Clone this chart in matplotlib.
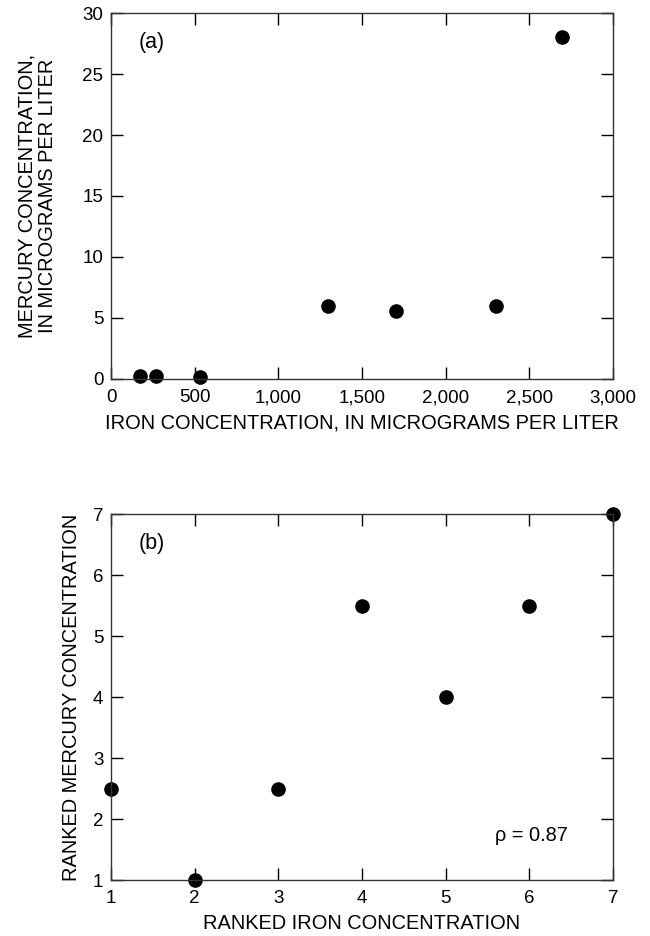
import matplotlib.pyplot as plt
from matplotlib.ticker import FuncFormatter

plt.rcParams["font.family"] = ["Liberation Sans", "DejaVu Sans"]

# panel (a): measured concentrations
iron = [175, 270, 534, 1296, 1703, 2302, 2696]
mercury = [0.25, 0.25, 0.2, 6.0, 5.55, 6.0, 28.0]
iron_ticks = [0, 500, 1000, 1500, 2000, 2500, 3000]
mercury_ticks = [0, 5, 10, 15, 20, 25, 30]

# panel (b): ranks
rank_iron = [1, 2, 3, 4, 5, 6, 7]
rank_mercury = [2.5, 1, 2.5, 5.5, 4, 5.5, 7]
rank_ticks = [1, 2, 3, 4, 5, 6, 7]
rho_text = "\u03c1 = 0.87"

TICK_FS = 13.5
LABEL_FS = 14.4

fig = plt.figure(figsize=(6.5, 9.36), dpi=100)
ax1 = fig.add_axes([0.1708, 0.5951, 0.7723, 0.391])
ax2 = fig.add_axes([0.1708, 0.0598, 0.7723, 0.391])


def style(ax):
    for sp in ax.spines.values():
        sp.set_linewidth(1.0)
        sp.set_color("#333333")
    ax.tick_params(direction="in", length=8.6, width=1.0, top=True, right=True,
                   labelsize=TICK_FS, colors="black")
    ax.tick_params(axis="x", pad=7.5)
    ax.tick_params(axis="y", pad=5.5)


ax1.plot(iron, mercury, "o", color="black", markersize=9.5, clip_on=False)
ax1.set_xlim(0, 3000)
ax1.set_ylim(0, 30)
ax1.set_xticks(iron_ticks)
ax1.set_yticks(mercury_ticks)
ax1.xaxis.set_major_formatter(FuncFormatter(lambda v, p: f"{int(v):,}"))
style(ax1)
ax1.set_xlabel("IRON CONCENTRATION, IN MICROGRAMS PER LITER", fontsize=LABEL_FS)
ax1.set_ylabel("MERCURY CONCENTRATION,\nIN MICROGRAMS PER LITER", fontsize=LABEL_FS,
               linespacing=1.1)
ax1.xaxis.set_label_coords(0.5, -0.094)
ax1.yaxis.set_label_coords(-0.108, 0.5)
ax1.text(0.054, 0.92, "(a)", transform=ax1.transAxes, fontsize=15.5,
         ha="left", va="center")

ax2.plot(rank_iron, rank_mercury, "o", color="black", markersize=9.5, clip_on=False)
ax2.set_xlim(1, 7)
ax2.set_ylim(1, 7)
ax2.set_xticks(rank_ticks)
ax2.set_yticks(rank_ticks)
style(ax2)
ax2.set_xlabel("RANKED IRON CONCENTRATION", fontsize=LABEL_FS)
ax2.set_ylabel("RANKED MERCURY CONCENTRATION", fontsize=LABEL_FS)
ax2.xaxis.set_label_coords(0.5, -0.094)
ax2.yaxis.set_label_coords(-0.06, 0.5)
ax2.text(0.054, 0.92, "(b)", transform=ax2.transAxes, fontsize=15.5,
         ha="left", va="center")
ax2.text(0.837, 0.123, rho_text, transform=ax2.transAxes, fontsize=LABEL_FS,
         ha="center", va="center")

fig.savefig("out.png", dpi=100)
